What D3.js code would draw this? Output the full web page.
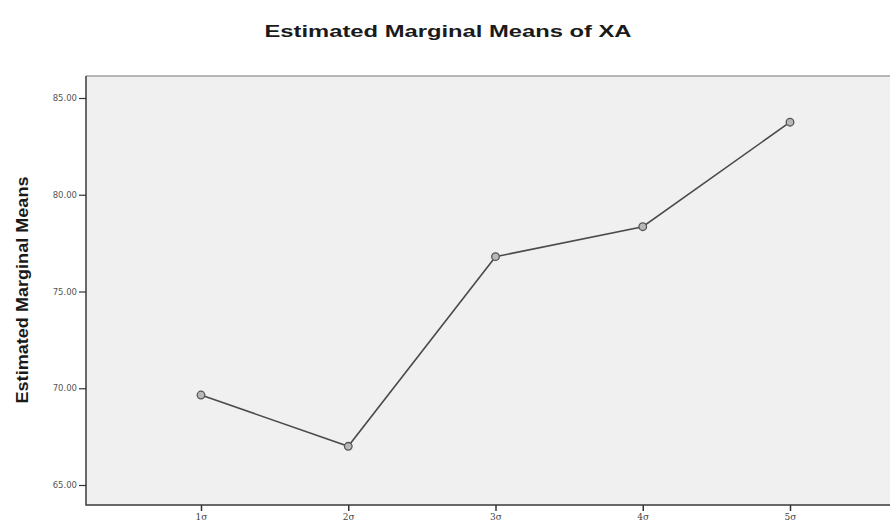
<!DOCTYPE html>
<html><head><meta charset="utf-8">
<script src="https://cdn.jsdelivr.net/npm/d3@7"></script>
<style>body{margin:0;background:#fff;}svg{display:block;}</style>
</head><body>
<script>
const categories = ["1σ","2σ","3σ","4σ","5σ"];
const means = [69.65, 67.0, 76.8, 78.35, 83.75];
const yTicks = [65, 70, 75, 80, 85];
const title = "Estimated Marginal Means of XA";
const yTitle = "Estimated Marginal Means";

const W = 890, H = 527;
const svg = d3.select("body").append("svg").attr("width", W).attr("height", H);
const plot = {left: 86, top: 76, right: 905, bottom: 505};

const x = d3.scalePoint().domain(categories).range([201, 790]);
const y = d3.scaleLinear().domain([65, 85]).range([485, 98]);

svg.append("rect").attr("x", plot.left).attr("y", plot.top)
  .attr("width", plot.right - plot.left).attr("height", plot.bottom - plot.top)
  .attr("fill", "#f0f0f0").attr("stroke", "none");
svg.append("line").attr("x1", plot.left).attr("x2", plot.right).attr("y1", plot.top).attr("y2", plot.top)
  .attr("stroke", "#a0a0a0").attr("stroke-width", 1.5);
svg.append("path").attr("d", `M${plot.left},${plot.top} V${plot.bottom} H${plot.right}`)
  .attr("fill", "none").attr("stroke", "#3a3a3a").attr("stroke-width", 1.5);

// y axis
const yAxis = d3.axisLeft(y).tickValues(yTicks).tickFormat(d => d3.format(".2f")(d)).tickSizeOuter(0).tickSize(7).tickPadding(2);
const gy = svg.append("g").attr("transform", `translate(${plot.left},0)`).call(yAxis);
gy.select(".domain").remove();
gy.selectAll(".tick line").attr("stroke", "#333").attr("stroke-width", 1.2);
gy.selectAll(".tick text").attr("font-family", "DejaVu Sans, sans-serif").attr("font-size", 8.5).attr("fill", "#555");

// x axis
const xAxis = d3.axisBottom(x).tickSizeOuter(0).tickSize(6).tickPadding(3);
const gx = svg.append("g").attr("transform", `translate(0,${plot.bottom})`).call(xAxis);
gx.select(".domain").remove();
gx.selectAll(".tick line").attr("stroke", "#333").attr("stroke-width", 1.5);
gx.selectAll(".tick text").attr("font-family", "DejaVu Serif, serif").attr("font-size", 9).attr("fill", "#444");

// line
const line = d3.line().x((d, i) => x(categories[i])).y(d => y(d));
svg.append("path").datum(means).attr("d", line)
  .attr("fill", "none").attr("stroke", "#4a4a4a").attr("stroke-width", 1.6);
svg.selectAll("circle.pt").data(means).enter().append("circle").attr("class", "pt")
  .attr("cx", (d, i) => x(categories[i])).attr("cy", d => y(d)).attr("r", 3.8)
  .attr("fill", "#b8b8b8").attr("stroke", "#555").attr("stroke-width", 1.3);

// titles
svg.append("text").attr("x", 448).attr("y", 37).attr("text-anchor", "middle")
  .attr("font-family", "Liberation Sans, Arial, sans-serif").attr("font-weight", "bold")
  .attr("font-size", 16).attr("fill", "#1a1a1a")
  .attr("textLength", 367).attr("lengthAdjust", "spacingAndGlyphs").text(title);

svg.append("text").attr("transform", "translate(28,290) rotate(-90)").attr("text-anchor", "middle")
  .attr("font-family", "Liberation Sans Narrow, Liberation Sans, sans-serif").attr("font-weight", "bold")
  .attr("font-size", 17).attr("fill", "#1a1a1a")
  .attr("textLength", 227).attr("lengthAdjust", "spacingAndGlyphs").text(yTitle);
</script>
</body></html>
